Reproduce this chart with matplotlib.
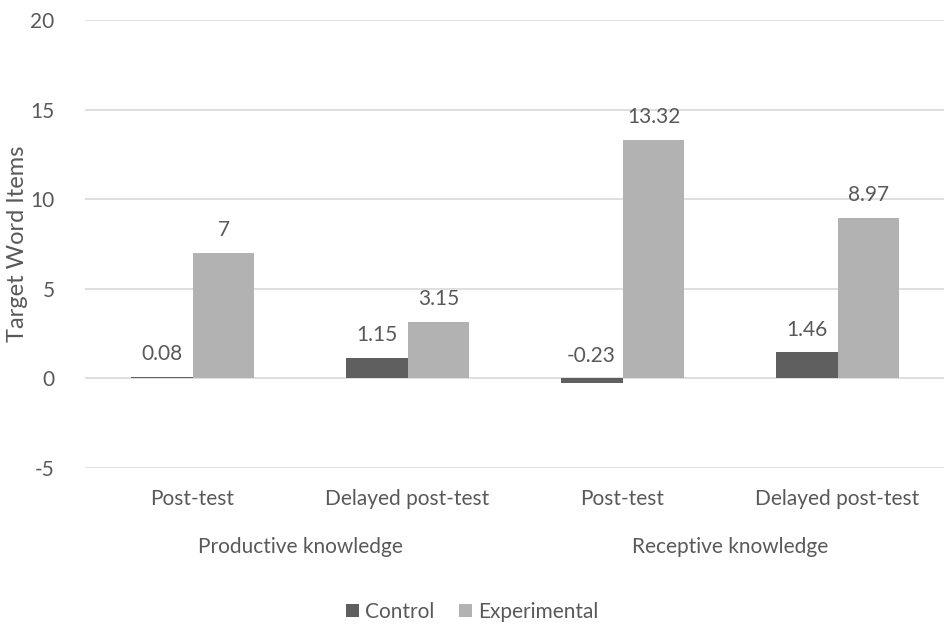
import matplotlib
matplotlib.use("Agg")
import matplotlib.pyplot as plt
import numpy as np

plt.rcParams['font.family'] = ['Lato', 'DejaVu Sans']
plt.rcParams['axes.unicode_minus'] = False

categories = ["Post-test", "Delayed post-test", "Post-test", "Delayed post-test"]
groups = ["Productive knowledge", "Receptive knowledge"]
control = [0.08, 1.15, -0.23, 1.46]
experimental = [7, 3.15, 13.32, 8.97]
control_labels = ["0.08", "1.15", "-0.23", "1.46"]
exp_labels = ["7", "3.15", "13.32", "8.97"]

txt = "#595959"
fs = 15
fig = plt.figure(figsize=(9.45, 6.28), dpi=100)
ax = fig.add_axes([0.09, 0.2548, 0.91, 0.7134])

x = np.arange(len(categories))
w = 0.288
ax.bar(x - w/2, control, w, color="#5f5f5f", label="Control", zorder=3)
ax.bar(x + w/2, experimental, w, color="#b2b2b2", label="Experimental", zorder=3)

for i in range(len(x)):
    ax.text(x[i] - w/2, max(control[i], 0) + 0.7, control_labels[i], ha="center", va="bottom",
            fontsize=fs, color=txt)
    ax.text(x[i] + w/2, experimental[i] + 0.7, exp_labels[i], ha="center", va="bottom",
            fontsize=fs, color=txt)

ax.set_xlim(-0.5, 3.5)
ax.set_ylim(-5, 20)
ax.set_yticks([-5, 0, 5, 10, 15, 20])
ax.yaxis.grid(True, color="#d9d9d9", linewidth=1.2, zorder=0)
for s in ax.spines.values():
    s.set_visible(False)
ax.tick_params(axis="y", length=0, labelsize=fs, labelcolor=txt, pad=22)
ax.set_xticks([])
for i in range(len(x)):
    ax.text(x[i], -6.75, categories[i], ha="center", va="center", fontsize=fs, color=txt,
            clip_on=False)
for j, g in enumerate(groups):
    ax.text(2*j + 0.5, -9.4, g, ha="center", va="center", fontsize=fs, color=txt,
            clip_on=False)

ax.set_ylabel("Target Word Items", fontsize=17, color=txt)
ax.yaxis.set_label_coords(-0.066, 0.5)

leg = fig.legend(loc="center", bbox_to_anchor=(0.5, 1 - 612/628), ncol=2, frameon=False,
                 fontsize=fs, handlelength=0.6, handleheight=0.6, handletextpad=0.3,
                 columnspacing=1.2)
for t in leg.get_texts():
    t.set_color(txt)

fig.savefig("out.png", dpi=100)
